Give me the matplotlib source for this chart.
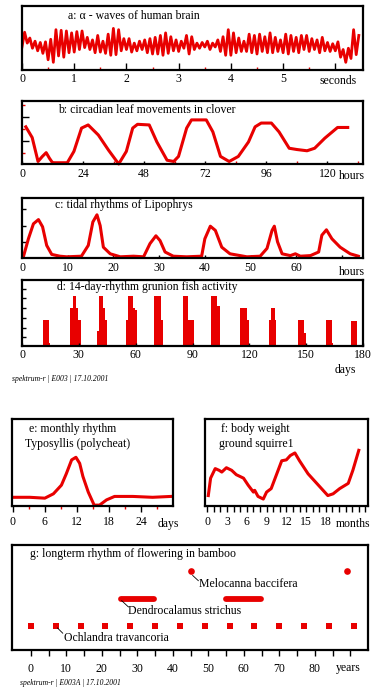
import numpy as np
import matplotlib.pyplot as plt

W, H = 388, 700
RED = '#e80000'
plt.rcParams['font.family'] = ['Liberation Serif', 'DejaVu Serif']
plt.rcParams['font.size'] = 8.5

# a: alpha waves, one value every 0.05 s
alpha_step = 0.05
alpha_v = [3.6, 5.9, 4.2, 5.0, 3.4, 4.5, 3.0, 4.3, 2.6, 4.4,
           1.6, 4.8, 1.2, 6.3, 2.2, 6.2, 2.0, 6.1, 2.7, 5.8,
           2.8, 6.0, 3.2, 6.1, 3.5, 5.1, 3.2, 4.7, 2.7, 5.4,
           2.8, 4.5, 2.6, 5.6, 2.3, 6.5, 2.4, 6.3, 3.0, 4.9,
           3.2, 4.9, 2.8, 4.2, 3.0, 4.5, 3.2, 4.7, 2.7, 4.9,
           2.5, 5.1, 2.5, 5.4, 2.3, 5.8, 2.6, 5.2, 3.0, 4.7,
           2.9, 4.5, 3.4, 5.4, 2.5, 5.2, 3.2, 4.2, 3.4, 4.3,
           3.6, 4.5, 3.2, 4.2, 3.6, 4.7, 2.9, 5.2, 2.3, 6.3,
           2.3, 5.8, 2.7, 5.0, 2.9, 4.5, 2.9, 5.6, 2.7, 5.4,
           2.5, 5.6, 2.9, 5.2, 2.7, 5.8, 2.7, 5.1, 2.9, 4.7,
           2.7, 5.6, 2.5, 5.4, 2.9, 5.1, 2.7, 5.4, 3.2, 5.4,
           2.9, 4.9, 3.2, 4.7, 2.7, 5.1, 3.0, 4.3, 2.9, 4.1,
           3.0, 4.4, 2.0, 3.2, 1.2, 3.4, 1.8, 6.3, 2.4, 5.4]

# b: clover leaf movements
clover_h = [1.5, 4, 6.3, 8, 9.5, 10.8, 12, 17.8, 20.4, 23.4, 26, 30, 34, 38, 41, 43.5,
            45.4, 50, 53, 57, 59.6, 61.5, 64.7, 66.6, 72.4, 75, 78, 81.4, 85, 89, 91.6,
            94, 98, 101, 105, 108, 112, 115, 119, 124, 128]
clover_v = [5.9, 4.2, 0.4, 1.2, 1.8, 0.9, 0.2, 0.2, 2.0, 5.7, 6.2, 4.6, 2.2, 0.0, 2.0, 5.7,
            6.3, 6.2, 3.5, 0.6, 0.4, 1.2, 5.7, 7.0, 7.0, 5.1, 1.2, 0.4, 1.2, 3.5, 5.9,
            6.5, 6.5, 5.1, 2.5, 2.3, 2.1, 2.5, 4.1, 5.8, 5.8]

# c: tidal rhythm of Lipophrys
tide_h = [0.3, 1.4, 2.5, 3.6, 4.5, 5.4, 6.5, 8.3, 9.8, 13, 14.5, 15.5, 16.4, 17.1, 17.8,
          19.3, 21.5, 24.4, 26.6, 28, 29.3, 30.2, 31.3, 33.1, 36, 39.3, 40, 41.2, 42.3,
          43.7, 45.5, 49.2, 52.1, 53.6, 54.7, 55.2, 55.9, 56.9, 58.7, 59.8, 60.9, 63.1,
          64.9, 65.6, 66.6, 67.8, 69.6, 71.8, 73.6]
tide_v = [0.2, 3.2, 5.7, 6.4, 5.2, 2.1, 0.6, 0.3, 0.2, 0.3, 2.1, 6.0, 7.2, 5.4, 1.8,
          0.7, 0.2, 0.3, 0.2, 2.4, 3.7, 2.9, 1.0, 0.3, 0.2, 0.3, 3.2, 5.3, 4.6,
          1.8, 0.7, 0.2, 0.3, 1.6, 4.6, 5.3, 2.7, 0.7, 0.4, 0.7, 0.3, 0.4,
          1.0, 3.8, 4.7, 3.2, 1.8, 0.7, 0.3]

# d: grunion activity (day from, day to, level)
grun_lo = [11.2, 14.2, 25.3, 26.7, 28.5, 29.7, 39.7, 40.8, 42.5, 43.8, 54.8, 56.1, 58.7, 59.6,
           69.6, 73.3, 85.1, 87.7, 99.7, 103.0, 115.3, 118.8, 130.4, 131.3, 133.4,
           145.7, 148.7, 150.2, 160.3, 163.8, 173.8]
grun_hi = [14.2, 14.8, 26.7, 28.5, 29.7, 30.9, 40.8, 42.5, 43.8, 45.0, 56.1, 58.7, 59.6, 60.5,
           73.3, 74.2, 87.7, 90.7, 103.0, 104.4, 118.8, 119.9, 131.3, 133.4, 134.3,
           148.7, 149.7, 150.6, 163.6, 164.3, 177.0]
grun_v = [3.9, 0.5, 5.7, 7.6, 5.7, 3.9, 2.2, 7.5, 5.7, 3.9, 3.9, 7.6, 5.7, 5.4,
          7.6, 3.9, 7.6, 3.9, 7.6, 6.0, 5.7, 3.9, 3.9, 5.7, 3.9,
          4.0, 1.9, 0.9, 3.9, 0.5, 3.8]

# e: Typosyllis
poly_d = [0.1, 3.2, 6, 7.6, 9.1, 10, 11, 11.8, 12.5, 13.1, 14.1, 15.2, 16.2, 17.5, 19.0, 22.4, 26.1, 29.5]
poly_v = [1.0, 1.0, 0.9, 1.4, 2.4, 3.7, 5.3, 5.6, 4.9, 3.4, 1.6, 0.1, 0.1, 0.7, 1.1, 1.1, 1.0, 1.1]

# f: ground squirrel body weight
sq_m = [0.15, 0.5, 1.2, 1.8, 2.2, 2.9, 3.7, 4.4, 5.5, 6.2, 7, 7.2, 7.7, 8.5, 9, 9.7, 10.5,
        11.3, 12, 12.6, 13.3, 14, 15.3, 17.1, 18.3, 19.1, 20.1, 21.4, 22.1, 23]
sq_v = [1.2, 3.2, 4.3, 4.1, 3.9, 4.4, 4.1, 3.6, 3.2, 2.4, 1.6, 1.8, 1.1, 0.8, 1.6, 2.0, 3.6,
        5.2, 5.3, 5.8, 6.1, 5.2, 3.7, 2.2, 1.2, 1.4, 2.0, 2.6, 4.1, 6.4]

# g: bamboo flowering (years)
ochlandra = [0, 7, 14, 21, 28, 35, 42, 49, 56, 63, 70, 77, 84, 91]
dendro_start = [25.5, 55.0]
dendro_end = [34.8, 64.9]
melocanna = [45, 89]

fig = plt.figure(figsize=(W / 100, H / 100), dpi=100)


def panel(l, r, t, b):
    ax = fig.add_axes([l / W, 1 - b / H, (r - l) / W, (b - t) / H])
    for s in ax.spines.values():
        s.set_linewidth(1.6)
        s.set_color('black')
    ax.set_yticks([])
    return ax


def ftext(x, y, s, **kw):
    kw.setdefault('va', 'center')
    fig.text(x / W, 1 - y / H, s, **kw)


def ticks_in(ax, major, labels, minor=(), pad=2, mlen=5):
    ax.set_xticks(major)
    ax.set_xticklabels(labels)
    ax.set_xticks(minor, minor=True)
    ax.tick_params(axis='x', which='major', direction='in', length=mlen, width=1, pad=pad, labelsize=8.5)
    ax.tick_params(axis='x', which='minor', direction='in', length=2, width=1, color=RED)


# a
ax = panel(22, 363, 6, 70)
ax.plot(np.arange(len(alpha_v)) * alpha_step, alpha_v, color=RED, lw=2.0)
ax.set_xlim(0, 6.53)
ax.set_ylim(0, 10)
ticks_in(ax, range(7), ['0', '1', '2', '3', '4', '5', ''], [0.5, 1.5, 2.5, 3.5, 4.5, 5.5])
ftext(68, 16, 'a: α - waves of human brain')
ftext(338, 81, 'seconds', ha='center')

# b
ax = panel(22, 363, 101, 164)
ax.plot(clover_h, clover_v, color=RED, lw=2.2, clip_on=False)
ax.set_xlim(0, 134)
ax.set_ylim(0, 10)
ticks_in(ax, [0, 24, 48, 72, 96, 120], ['0', '24', '48', '72', '96', '120'],
         [12, 36, 60, 84, 108, 132], pad=3, mlen=2)
ax.set_yticks([3.6, 7.4])
ax.set_yticks([1.8, 5.5, 9.3], minor=True)
ax.tick_params(axis='y', which='major', direction='in', length=5, width=1, labelleft=False)
ax.tick_params(axis='y', which='minor', direction='in', length=2.5, width=1, color=RED)
ftext(58, 110, 'b: circadian leaf movements in clover')
ftext(352, 176, 'hours', ha='center')

# c
ax = panel(22, 363, 198, 258)
ax.plot(tide_h, tide_v, color=RED, lw=2.2, clip_on=False)
ax.set_xlim(0, 74.6)
ax.set_ylim(0, 10)
ticks_in(ax, [0, 10, 20, 30, 40, 50, 60, 70], ['0', '10', '20', '30', '40', '50', '60', ''],
         pad=3, mlen=2)
ax.set_yticks([2.6, 5.3, 8.2])
ax.tick_params(axis='y', direction='in', length=3, width=1, labelleft=False)
ftext(55, 205, 'c: tidal rhythms of Lipophrys')
ftext(352, 272, 'hours', ha='center')

# d
ax = panel(22, 363, 280, 346)
ax.bar(grun_lo, grun_v, width=np.subtract(grun_hi, grun_lo), align='edge',
       color=RED, linewidth=0)
ax.set_xlim(0, 180)
ax.set_ylim(0, 10)
ticks_in(ax, [0, 30, 60, 90, 120, 150, 180], ['0', '30', '60', '90', '120', '150', '180'],
         pad=2, mlen=2)
ax.set_yticks([1.4, 2.8, 4.3, 5.7, 7.2, 8.6])
ax.tick_params(axis='y', direction='in', length=3, width=1, labelleft=False)
ftext(57, 287, 'd: 14-day-rhythm grunion fish activity')
ftext(345, 370, 'days', ha='center')
ftext(12, 379, 'spektrum-r | E003 | 17.10.2001', fontsize=5.5, style='italic')

# e
ax = panel(12, 173, 419, 506)
ax.plot(poly_d, poly_v, color=RED, lw=2.2, clip_on=False)
ax.set_xlim(-0.12, 29.9)
ax.set_ylim(0, 10)
ax.set_xticks([0, 6, 12, 18, 24])
ax.set_xticks([3, 9, 15, 21, 27], minor=True)
ax.tick_params(axis='x', which='major', direction='out', length=4, width=1, pad=3)
ax.tick_params(axis='x', which='minor', direction='out', length=2, width=1, color=RED)
ftext(29, 429, 'e: monthly rhythm')
ftext(25, 444, 'Typosyllis (polycheat)')
ftext(168, 524, 'days', ha='center')

# f
ax = panel(205, 368, 419, 506)
ax.plot(sq_m, sq_v, color=RED, lw=2.2, clip_on=False)
ax.set_xlim(-0.35, 24.4)
ax.set_ylim(0, 10)
ax.set_xticks([0, 3, 6, 9, 12, 15, 18])
ax.set_xticks(range(25), minor=True)
ax.tick_params(axis='x', which='major', direction='out', length=4, width=1, pad=3)
ax.tick_params(axis='x', which='minor', direction='out', length=4, width=1)
ftext(221, 429, 'f: body weight')
ftext(219, 444, 'ground squirre1')
ftext(353, 524, 'months', ha='center')

# g
ax = panel(12, 368, 545, 650)
ax.plot(ochlandra, [2.3] * len(ochlandra), 's', color=RED, ms=4.5, mew=0)
ax.plot(melocanna, [7.5] * len(melocanna), 'o', color=RED, ms=4.8, mew=0)
for s, e in zip(dendro_start, dendro_end):
    ax.plot([s, e], [4.9, 4.9], color=RED, lw=4.2, solid_capstyle='round')
ax.plot([45.6, 47.2], [7.1, 6.6], color='black', lw=0.6)
ax.plot([25.6, 27.5], [4.7, 4.1], color='black', lw=0.6)
ax.plot([7.5, 9.0], [2.1, 1.6], color='black', lw=0.6)
ax.text(47.4, 6.3, 'Melocanna baccifera', va='center')
ax.text(27.4, 3.7, 'Dendrocalamus strichus', va='center')
ax.text(9.4, 1.15, 'Ochlandra travancoria', va='center')
ax.set_xlim(-5.3, 95)
ax.set_ylim(0, 10)
ax.set_xticks(range(0, 91, 10))
ax.set_xticklabels(['0', '10', '20', '30', '40', '50', '60', '70', '80', ''])
ax.set_xticks(range(5, 91, 10), minor=True)
ax.tick_params(axis='x', which='both', direction='out', length=4, width=1, pad=5)
ftext(30, 554, 'g: longterm rhythm of flowering in bamboo')
ftext(348, 668, 'years', ha='center')
ftext(20, 683, 'spektrum-r | E003A | 17.10.2001', fontsize=5.5, style='italic')

fig.savefig('out.png', dpi=100)
